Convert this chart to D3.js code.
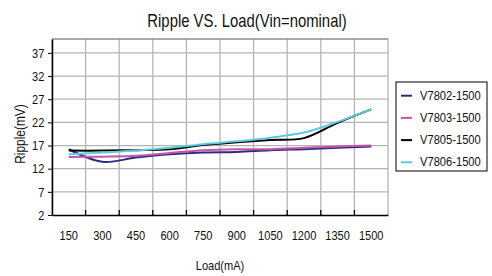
<!DOCTYPE html>
<html>
<head>
<meta charset="utf-8">
<script src="https://cdn.jsdelivr.net/npm/d3@7"></script>
<style>
  body { margin: 0; background: #fff; }
  svg text { font-family: "Liberation Sans", Arial, sans-serif; fill: #111; }
</style>
</head>
<body>
<div id="chart"></div>
<script>
// categories (load, mA)
var loads = ["150", "300", "450", "600", "750", "900", "1050", "1200", "1350", "1500"];
var yTicks = [2, 7, 12, 17, 22, 27, 32, 37];
var seriesNames = ["V7802-1500", "V7803-1500", "V7805-1500", "V7806-1500"];
var seriesColors = ["#2b2d7e", "#c455aa", "#000000", "#5ccbdc"];

// ripple values (mV)
var v7802 = [16.2, 13.5, 14.4, 15.1, 15.5, 15.6, 16.0, 16.2, 16.5, 16.8];
var v7803 = [14.5, 14.6, 14.8, 15.4, 16.0, 16.2, 16.2, 16.5, 16.8, 17.0];
var v7805 = [15.9, 15.9, 16.0, 16.2, 17.1, 17.7, 18.2, 18.6, 21.9, 24.8];
var v7806 = [15.1, 15.5, 15.9, 16.5, 17.3, 17.9, 18.7, 19.8, 22.1, 24.8];
var seriesValues = [v7802, v7803, v7805, v7806];

var narrow = 0.85; // the original uses a condensed face

var margin = {top: 39, right: 104, bottom: 61, left: 52},
    width = 492 - margin.left - margin.right,
    height = 276 - margin.top - margin.bottom;

var svg = d3.select("#chart")
  .append("svg")
    .attr("width", 492)
    .attr("height", 276);

var g = svg.append("g")
    .attr("transform", `translate(${margin.left},${margin.top})`);

var x = d3.scaleBand()
  .domain(loads)
  .range([0, width]);

var y = d3.scaleLinear()
  .domain([2, 40])
  .range([height, 0]);

// vertical gridlines on band edges
var edges = loads.map(function(d) { return x(d); }).concat([width]);
g.selectAll(".vgrid")
  .data(edges)
  .enter().append("line")
    .attr("x1", function(d) { return d; })
    .attr("x2", function(d) { return d; })
    .attr("y1", 0)
    .attr("y2", height)
    .attr("stroke", "#b4b4b4")
    .attr("stroke-width", 1.3);

// horizontal gridlines
g.selectAll(".hgrid")
  .data(yTicks.slice(1))
  .enter().append("line")
    .attr("x1", 0)
    .attr("x2", width)
    .attr("y1", function(d) { return y(d); })
    .attr("y2", function(d) { return y(d); })
    .attr("stroke", "#b4b4b4")
    .attr("stroke-width", 1.3);

// top border
g.append("line")
  .attr("x1", 0).attr("x2", width)
  .attr("y1", 0).attr("y2", 0)
  .attr("stroke", "#8c8c8c")
  .attr("stroke-width", 1.3);

// y axis
var yAxis = g.append("g")
  .call(d3.axisLeft(y).tickValues(yTicks).tickSize(4).tickPadding(5).tickSizeOuter(0));
yAxis.select(".domain").attr("stroke", "#000").attr("stroke-width", 1.5);
yAxis.selectAll(".tick line").attr("stroke", "#000");
yAxis.selectAll("text")
  .style("font-size", "13px")
  .attr("transform", `scale(${narrow},1)`);

// x axis, ticks pointing into the plot at band edges
var xAxis = g.append("g")
  .attr("transform", `translate(0,${height})`)
  .call(d3.axisBottom(x).tickSize(0).tickPadding(16));
xAxis.select(".domain").attr("stroke", "#000").attr("stroke-width", 1.5);
xAxis.selectAll("text")
  .style("font-size", "13px")
  .attr("transform", `scale(${narrow},1)`);
g.selectAll(".xtick")
  .data(edges.slice(1, -1))
  .enter().append("line")
    .attr("x1", function(d) { return d; })
    .attr("x2", function(d) { return d; })
    .attr("y1", height)
    .attr("y2", height - 5)
    .attr("stroke", "#000")
    .attr("stroke-width", 1.3);

// series lines
var line = d3.line()
  .x(function(d, i) { return x(loads[i]) + x.bandwidth() / 2; })
  .y(function(d) { return y(d); })
  .curve(d3.curveCatmullRom);

seriesValues.forEach(function(vals, k) {
  g.append("path")
    .datum(vals)
    .attr("fill", "none")
    .attr("stroke", seriesColors[k])
    .attr("stroke-width", 2)
    .attr("d", line);
});

// title
svg.append("text")
  .attr("transform", `translate(247,27) scale(${narrow},1)`)
  .attr("text-anchor", "middle")
  .style("font-size", "17.5px")
  .text("Ripple VS. Load(Vin=nominal)");

// axis titles
svg.append("text")
  .attr("transform", `translate(220,270) scale(${narrow},1)`)
  .attr("text-anchor", "middle")
  .style("font-size", "13px")
  .text("Load(mA)");

svg.append("text")
  .attr("transform", `translate(25,134) rotate(-90) scale(${narrow},1)`)
  .attr("text-anchor", "middle")
  .style("font-size", "14px")
  .text("Ripple(mV)");

// legend
var legend = svg.append("g")
  .attr("transform", "translate(396,82)");
legend.append("rect")
  .attr("width", 91)
  .attr("height", 89)
  .attr("fill", "#fff")
  .attr("stroke", "#000")
  .attr("stroke-width", 1);

seriesNames.forEach(function(name, k) {
  var yy = 13.7 + k * 22.2;
  legend.append("line")
    .attr("x1", 5).attr("x2", 16)
    .attr("y1", yy).attr("y2", yy)
    .attr("stroke", seriesColors[k])
    .attr("stroke-width", 2);
  legend.append("text")
    .attr("transform", `translate(24,${yy + 4}) scale(0.93,1)`)
    .style("font-size", "12px")
    .text(name);
});
</script>
</body>
</html>
